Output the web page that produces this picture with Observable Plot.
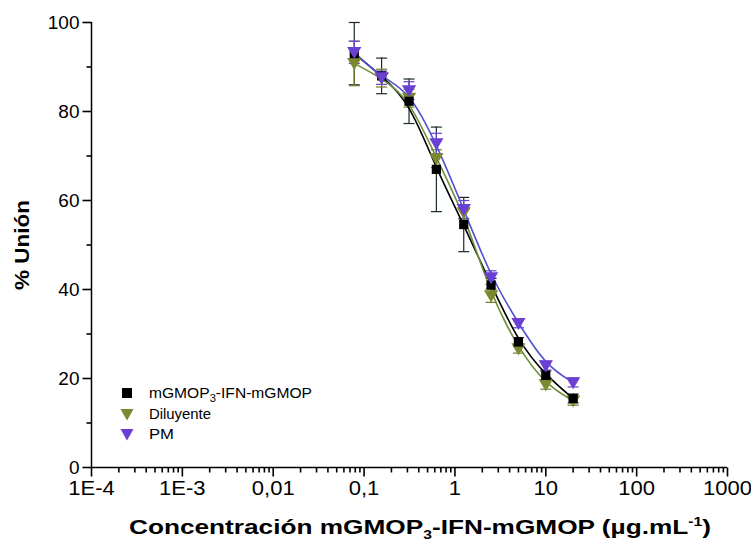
<!DOCTYPE html>
<html><head><meta charset="utf-8">
<script src="https://cdn.jsdelivr.net/npm/d3@7"></script>
<script src="https://cdn.jsdelivr.net/npm/@observablehq/plot@0.6"></script>
<style>
body{margin:0;background:#fff;font-family:"Liberation Sans",Arial,sans-serif}
#chart{position:relative;width:751px;height:541px}
</style>
</head><body><div id="chart"></div>
<script>
// Concentrations (µg/mL)
const conc = [0.078, 0.156, 0.3125, 0.625, 1.25, 2.5, 5, 10, 20];
// % Unión per series, with error (±)
const mgmop = [93, 88, 82.3, 67, 54.6, 41, 28.2, 20.7, 15.5];
const mgmopErr = [7, 4, 5, 9.5, 6.1, 1.5, 1, 1, 1];
const diluyente = [90.8, 87.5, 83, 69.4, 57.3, 38.6, 26.7, 18.6, 15];
const diluyenteErr = [5, 2, 2, 2, 1.5, 1.5, 1, 1, 1];
const pm = [93.3, 87.6, 84.7, 72.8, 58, 42.7, 32.4, 22.9, 19.1];
const pmErr = [2.5, 1.5, 2, 2.3, 2, 1.5, 1, 1, 1];

const seriesNames = ["mGMOP3-IFN-mGMOP", "Diluyente", "PM"];
const seriesColors = ["#000000", "#7b8a2e", "#6a40d2"];
const barColors = ["#1a2a30", "#6f7d2a", "#6a40d2"];
const lineColors = ["#000000", "#6f8f3a", "#5252d0"];

const xTicks = [1e-4, 1e-3, 0.01, 0.1, 1, 10, 100, 1000];
const xTickLabels = ["1E-4", "1E-3", "0,01", "0,1", "1", "10", "100", "1000"];
const yTicks = [0, 20, 40, 60, 80, 100];
const yMinor = [10, 30, 50, 70, 90];

const rows = [];
[[mgmop, mgmopErr], [diluyente, diluyenteErr], [pm, pmErr]].forEach(([vals, errs], s) => {
  conc.forEach((c, i) => rows.push({series: seriesNames[s], si: s, x: c, y: vals[i], lo: vals[i] - errs[i], hi: vals[i] + errs[i]}));
});

const xMinor = [];
for (let e = -4; e < 3; e++) for (let m = 2; m <= 9; m++) xMinor.push(m * Math.pow(10, e));

const capSymbol = {draw(ctx, size) { const w = 5.5; ctx.moveTo(-w, 0); ctx.lineTo(w, 0); }};
const downTri = {draw(ctx, size) {
  const r = Math.sqrt(size) * 0.62;
  ctx.moveTo(-r, -r * 0.75); ctx.lineTo(r, -r * 0.75); ctx.lineTo(0, r * 0.95); ctx.closePath();
}};
const tickDown = len => ({draw(ctx) { ctx.moveTo(0, 0); ctx.lineTo(0, len); }});
const tickLeft = len => ({draw(ctx) { ctx.moveTo(0, 0); ctx.lineTo(-len, 0); }});

const symbolFor = s => s === 0 ? "square" : downTri;
const fmt = d => xTickLabels[xTicks.indexOf(d)];
const tickStyle = {fill: "none", stroke: "#000", strokeWidth: 1.6, r: 4};

const marks = [
  // axis lines
  Plot.ruleX([1e-4], {y1: 0, y2: 100, stroke: "#000", strokeWidth: 1.5}),
  Plot.ruleY([0], {x1: 1e-4, x2: 1000, stroke: "#000", strokeWidth: 1.5}),
  // tick marks (outward)
  Plot.dot(yTicks, {y: d => d, x: () => 1e-4, symbol: tickLeft(9), ...tickStyle}),
  Plot.dot(yMinor, {y: d => d, x: () => 1e-4, symbol: tickLeft(5), ...tickStyle}),
  Plot.dot(xTicks, {x: d => d, y: () => 0, symbol: tickDown(9), ...tickStyle}),
  Plot.dot(xMinor, {x: d => d, y: () => 0, symbol: tickDown(5), ...tickStyle}),
  // tick labels
  Plot.axisY(yTicks, {tickSize: 0, tickPadding: 12, fontSize: 19, label: null}),
  Plot.axisX(xTicks, {tickSize: 0, tickPadding: 13, fontSize: 20, tickFormat: fmt, label: null}),
];

[0, 1, 2].forEach(s => {
  const d = rows.filter(r => r.si === s);
  marks.push(Plot.ruleX(d, {x: "x", y1: "lo", y2: "hi", stroke: barColors[s], strokeWidth: 1.2}));
  marks.push(Plot.dot(d, {x: "x", y: "lo", symbol: capSymbol, r: 5, stroke: barColors[s], strokeWidth: 1.2, fill: "none"}));
  marks.push(Plot.dot(d, {x: "x", y: "hi", symbol: capSymbol, r: 5, stroke: barColors[s], strokeWidth: 1.2, fill: "none"}));
});
[0, 1, 2].forEach(s => {
  const d = rows.filter(r => r.si === s);
  marks.push(Plot.line(d, {x: "x", y: "y", curve: "basis", stroke: lineColors[s], strokeWidth: 1.6}));
});
[1, 0, 2].forEach(s => {
  const d = rows.filter(r => r.si === s);
  marks.push(Plot.dot(d, {x: "x", y: "y", symbol: symbolFor(s), r: s === 0 ? 5.2 : 6.5, fill: seriesColors[s], stroke: "none"}));
});

const chart = Plot.plot({
  width: 751, height: 541,
  marginLeft: 91, marginRight: 24, marginTop: 22, marginBottom: 74,
  style: {fontFamily: "'Liberation Sans', Arial, sans-serif", color: "#000", background: "#fff"},
  x: {type: "log", domain: [1e-4, 1000], axis: null},
  y: {domain: [0, 100], axis: null},
  marks
});
document.getElementById("chart").appendChild(chart);

const svg = d3.select(chart);
// Slightly widen x tick labels (reference text is horizontally stretched)
svg.selectAll("g[aria-label='x-axis tick label'] text").each(function() {
  const len = this.getComputedTextLength();
  if (len > 0) { this.setAttribute("textLength", len * 1.1); this.setAttribute("lengthAdjust", "spacingAndGlyphs"); }
});

// Axis titles
svg.append("text")
  .attr("transform", "translate(29,245) rotate(-90)")
  .attr("text-anchor", "middle")
  .attr("font-size", 20).attr("font-weight", "bold").attr("fill", "#000")
  .attr("textLength", 90).attr("lengthAdjust", "spacingAndGlyphs")
  .text("% Unión");

const xt = svg.append("text")
  .attr("x", 420).attr("y", 534)
  .attr("text-anchor", "middle")
  .attr("font-size", 20).attr("font-weight", "bold").attr("fill", "#000")
  .attr("textLength", 582).attr("lengthAdjust", "spacingAndGlyphs");
xt.append("tspan").text("Concentración mGMOP");
xt.append("tspan").attr("font-size", 12).attr("dy", 5).text("3");
xt.append("tspan").attr("dy", -5).text("-IFN-mGMOP (µg.mL");
xt.append("tspan").attr("font-size", 12).attr("dy", -8).text("-1");
xt.append("tspan").attr("dy", 8).text(")");

// Legend
const legendY = [393, 414, 434];
const legendLen = [163, 62, 25];
const lg = svg.append("g").attr("text-anchor", "start");
[0, 1, 2].forEach(s => {
  const g = lg.append("g").attr("transform", `translate(127,${legendY[s]})`);
  if (s === 0) g.append("rect").attr("x", -5).attr("y", -5).attr("width", 10).attr("height", 10).attr("fill", seriesColors[s]);
  else g.append("path").attr("d", "M-6.5,-5L6.5,-5L0,6.5Z").attr("fill", seriesColors[s]);
  const t = g.append("text").attr("x", 22).attr("y", 5).attr("font-size", 14).attr("fill", "#000")
    .attr("text-anchor", "start")
    .attr("textLength", legendLen[s]).attr("lengthAdjust", "spacingAndGlyphs");
  if (s === 0) {
    t.append("tspan").text("mGMOP");
    t.append("tspan").attr("font-size", 10).attr("dy", 4).text("3");
    t.append("tspan").attr("dy", -4).text("-IFN-mGMOP");
  } else t.text(seriesNames[s]);
});
</script>
</body></html>
